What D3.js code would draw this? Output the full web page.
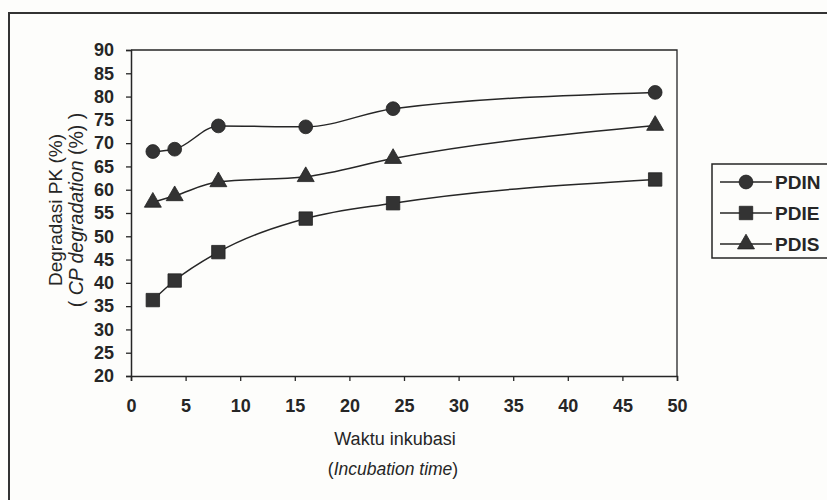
<!DOCTYPE html>
<html>
<head>
<meta charset="utf-8">
<script src="https://cdn.jsdelivr.net/npm/d3@7/dist/d3.min.js"></script>
<style>
  html, body { margin: 0; padding: 0; background: #fdfdfb; }
  svg { display: block; }
  text { fill: #262626; }
</style>
</head>
<body>
<svg id="chart" width="827" height="500"></svg>
<script>
// ---- data ----
const hours = [2, 4, 8, 16, 24, 48];
const pdin = [68.2, 68.7, 73.7, 73.5, 77.4, 80.9];
const pdie = [36.3, 40.5, 46.6, 53.8, 57.1, 62.2];
const pdis = [57.3, 58.7, 61.7, 62.8, 66.7, 73.8];
const seriesNames = ["PDIN", "PDIE", "PDIS"];
const xTicks = [0, 5, 10, 15, 20, 25, 30, 35, 40, 45, 50];
const yTicks = [20, 25, 30, 35, 40, 45, 50, 55, 60, 65, 70, 75, 80, 85, 90];
const xTitle = ["Waktu inkubasi", "Incubation time"];
const yTitle = ["Degradasi  PK (%)", "CP degradation", "(%) )"];

const series = [
  { name: seriesNames[0], values: pdin, symbol: d3.symbolCircle, size: 150 },
  { name: seriesNames[1], values: pdie, symbol: d3.symbolSquare, size: 180 },
  { name: seriesNames[2], values: pdis, symbol: d3.symbolTriangle, size: 125 }
];

const svg = d3.select("#chart");
const ink = "#262626";
const markFill = "#333";
const sans = "'Liberation Sans', Arial, sans-serif";

// outer frame (page scan border)
svg.append("path")
  .attr("d", "M9,540 L9,13 L840,13")
  .attr("fill", "none").attr("stroke", "#333").attr("stroke-width", 2);

const plot = { left: 131, right: 677, top: 50, bottom: 376 };
const x = d3.scaleLinear().domain([0, 50]).range([plot.left, plot.right]);
const y = d3.scaleLinear().domain([20, 90]).range([plot.bottom, plot.top]);

// plot box top/right
svg.append("path")
  .attr("d", `M${plot.left},${plot.top} H${plot.right} V${plot.bottom}`)
  .attr("fill", "none").attr("stroke", ink).attr("stroke-width", 1.3);

// axes
const xAxis = svg.append("g")
  .attr("transform", `translate(0,${plot.bottom})`)
  .call(d3.axisBottom(x).tickValues(xTicks).tickSize(5).tickPadding(18).tickFormat(d3.format("d")));
const yAxis = svg.append("g")
  .attr("transform", `translate(${plot.left},0)`)
  .call(d3.axisLeft(y).tickValues(yTicks).tickSize(5).tickPadding(12).tickFormat(d3.format("d")));

[xAxis, yAxis].forEach(g => {
  g.select(".domain").attr("stroke", ink).attr("stroke-width", 1.5);
  g.selectAll(".tick line").attr("stroke", ink).attr("stroke-width", 1.3);
  g.selectAll(".tick text")
    .attr("fill", ink)
    .style("font-family", sans)
    .style("font-weight", "bold")
    .style("font-size", "18px");
});

// lines
const line = d3.line()
  .x((d, i) => x(hours[i]))
  .y(d => y(d))
  .curve(d3.curveMonotoneX);

series.forEach(s => {
  svg.append("path")
    .datum(s.values)
    .attr("d", line)
    .attr("fill", "none")
    .attr("stroke", ink)
    .attr("stroke-width", 1.5);
  svg.append("g").selectAll("path")
    .data(s.values)
    .join("path")
    .attr("transform", (d, i) => `translate(${x(hours[i])},${y(d)})`)
    .attr("d", d3.symbol().type(s.symbol).size(s.size))
    .attr("fill", markFill)
    .attr("stroke", "#222")
    .attr("stroke-width", 0.8);
});

// x title
svg.append("text")
  .attr("x", 395).attr("y", 445)
  .attr("text-anchor", "middle")
  .style("font-family", sans).style("font-size", "18px")
  .text(xTitle[0]);
const xt2 = svg.append("text")
  .attr("x", 393).attr("y", 475)
  .attr("text-anchor", "middle")
  .style("font-family", sans).style("font-size", "17.5px");
xt2.append("tspan").text("(");
xt2.append("tspan").style("font-style", "italic").text(xTitle[1]);
xt2.append("tspan").text(")");

// y title (rotated, two lines)
const yt = svg.append("g").attr("transform", "translate(0,210) rotate(-90)");
yt.append("text")
  .attr("x", 0).attr("y", 62)
  .attr("text-anchor", "middle")
  .style("font-family", sans).style("font-size", "19px")
  .text(yTitle[0]);
const yt2 = yt.append("text")
  .attr("x", 0).attr("y", 83)
  .attr("text-anchor", "middle")
  .style("font-family", sans).style("font-size", "19.5px");
yt2.append("tspan").text("( ");
yt2.append("tspan").style("font-style", "italic").text(yTitle[1]);
yt2.append("tspan").text(" " + yTitle[2]);

// legend
const lg = { left: 712, top: 164, bottom: 258 };
svg.append("path")
  .attr("d", `M840,${lg.top} H${lg.left} V${lg.bottom} H840`)
  .attr("fill", "none").attr("stroke", ink).attr("stroke-width", 1.5);
const legendY = d3.scalePoint().domain(seriesNames).range([182, 244]);
series.forEach(s => {
  const ly = legendY(s.name);
  svg.append("line")
    .attr("x1", 720).attr("x2", 772).attr("y1", ly).attr("y2", ly)
    .attr("stroke", ink).attr("stroke-width", 1.5);
  svg.append("path")
    .attr("transform", `translate(746,${ly})`)
    .attr("d", d3.symbol().type(s.symbol).size(s.size))
    .attr("fill", markFill).attr("stroke", "#222").attr("stroke-width", 0.8);
  svg.append("text")
    .attr("x", 775).attr("y", ly + 7)
    .style("font-family", sans).style("font-weight", "bold").style("font-size", "19px")
    .text(s.name);
});
</script>
</body>
</html>
